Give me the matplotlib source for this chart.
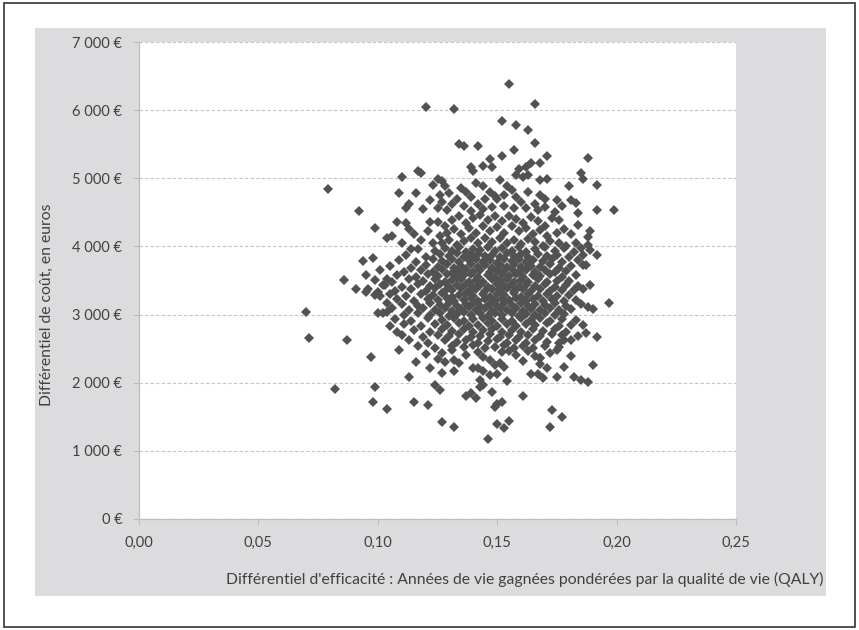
import numpy as np
import matplotlib
matplotlib.use("Agg")
import matplotlib.pyplot as plt
from matplotlib.patches import Rectangle

plt.rcParams['font.family'] = ['Lato', 'DejaVu Sans']

# points: (QALY gain in thousandths, cost difference in euros)
pts_top = [(155, 6390), (166, 6090), (120, 6050), (132, 6020), (152, 5845), (158, 5780),
           (163, 5710), (134, 5505), (136, 5480), (142, 5480), (157, 5415), (166, 5515),
           (171, 5330), (188, 5300), (152, 5320), (147, 5285), (139, 5165), (140, 5100),
           (144, 5185), (148, 5165), (159, 5135), (162, 5165), (164, 5230), (168, 5225),
           (158, 5050), (161, 5025), (163, 5050), (185, 5075), (110, 5020), (117, 5100),
           (118, 5075), (79, 4840)]

pts_4500 = [(168, 4980), (171, 4990), (186, 4990), (192, 4905), (199, 4535), (192, 4535),
            (125, 4995), (127, 4955), (128, 4890), (123, 4905), (116, 4785), (126, 4750),
            (130, 4785), (135, 4855), (137, 4805), (141, 4930), (144, 4880), (151, 4980),
            (154, 4880), (156, 4830), (109, 4785), (180, 4880), (181, 4685), (183, 4640),
            (175, 4685), (168, 4760), (170, 4690), (174, 4510), (113, 4625), (112, 4560),
            (119, 4550), (92, 4525), (147, 4800), (149, 4740), (150, 4700), (153, 4760),
            (145, 4700), (139, 4720), (133, 4700), (158, 4720), (160, 4650), (163, 4800),
            (166, 4620), (142, 4620), (136, 4600), (131, 4620), (127, 4650), (122, 4680),
            (157, 4560), (153, 4600), (148, 4580), (144, 4550), (139, 4520), (162, 4560),
            (167, 4530), (170, 4580), (177, 4600), (184, 4490), (129, 4530), (125, 4560)]

pts_4000 = [(176, 4390), (184, 4320), (189, 4220), (188, 4145), (183, 4050), (185, 3975),
            (188, 4025), (189, 3950), (99, 4275), (108, 4355), (106, 4155), (112, 4350),
            (113, 4250), (122, 4355), (115, 4180), (121, 4230), (125, 4360), (128, 4300),
            (131, 4390), (134, 4440), (137, 4350), (140, 4420), (143, 4460), (146, 4390),
            (149, 4440), (152, 4380), (155, 4450), (158, 4400), (161, 4350), (164, 4430),
            (167, 4380), (170, 4300), (173, 4420), (178, 4250), (181, 4180), (126, 4150),
            (129, 4200), (132, 4250), (135, 4180), (138, 4270), (141, 4200), (144, 4300),
            (147, 4230), (150, 4280), (153, 4200), (156, 4300), (159, 4230), (162, 4270),
            (165, 4180), (168, 4240), (171, 4150), (175, 4200), (118, 4100), (123, 4050),
            (127, 4050), (130, 4100), (133, 4020), (136, 4080), (139, 4120), (142, 4050),
            (145, 4120), (148, 4060), (151, 4130), (154, 4050), (157, 4100), (160, 4030),
            (163, 4110), (166, 4060), (169, 4000), (172, 4080), (176, 4050), (179, 4010),
            (110, 4050), (114, 3960), (104, 4120)]

pts_3500 = [(117, 3960), (124, 3930), (128, 3975), (131, 3940), (134, 3990), (137, 3925),
            (140, 3965), (143, 3945), (146, 3990), (149, 3930), (152, 3970), (156, 3940),
            (159, 3985), (162, 3925), (166, 3960), (170, 3990), (174, 3935), (178, 3970),
            (182, 3920),
            (112, 3880), (120, 3850), (126, 3890), (130, 3860), (133, 3900), (136, 3845),
            (139, 3875), (142, 3895), (145, 3855), (148, 3880), (151, 3845), (154, 3900),
            (157, 3865), (160, 3885), (163, 3850), (167, 3895), (171, 3860), (175, 3880),
            (180, 3845), (186, 3870),
            (109, 3800), (116, 3770), (123, 3810), (127, 3780), (131, 3815), (134, 3765),
            (138, 3795), (141, 3820), (144, 3775), (147, 3800), (150, 3760), (153, 3810),
            (156, 3785), (159, 3820), (162, 3770), (165, 3800), (169, 3780), (173, 3815),
            (177, 3770), (184, 3795),
            (105, 3720), (114, 3690), (120, 3730), (125, 3700), (129, 3735), (132, 3690),
            (135, 3715), (139, 3740), (142, 3695), (145, 3725), (148, 3690), (151, 3730),
            (154, 3705), (157, 3740), (160, 3695), (164, 3720), (168, 3700), (172, 3735),
            (176, 3690), (181, 3715), (187, 3725),
            (101, 3650), (111, 3620), (118, 3660), (123, 3630), (127, 3665), (131, 3615),
            (134, 3645), (137, 3670), (140, 3625), (143, 3655), (147, 3620), (150, 3660),
            (153, 3635), (156, 3665), (159, 3620), (162, 3650), (166, 3630), (170, 3660),
            (174, 3625), (179, 3645),
            (108, 3580), (116, 3555), (121, 3590), (125, 3560), (129, 3595), (133, 3550),
            (136, 3575), (139, 3600), (142, 3555), (146, 3585), (149, 3550), (152, 3590),
            (155, 3565), (158, 3595), (161, 3550), (165, 3580), (168, 3560), (172, 3590),
            (177, 3555), (183, 3575),
            (99, 3505), (106, 3480), (113, 3515), (119, 3490), (124, 3520), (128, 3475),
            (131, 3505), (135, 3525), (138, 3480), (141, 3510), (144, 3475), (148, 3515),
            (151, 3490), (154, 3520), (157, 3475), (160, 3505), (163, 3485), (167, 3515),
            (171, 3480), (175, 3500), (180, 3490)]

pts_3000 = [(103, 3440), (110, 3410), (117, 3445), (122, 3420), (126, 3450), (130, 3405),
            (133, 3435), (137, 3455), (140, 3410), (143, 3440), (146, 3405), (150, 3445),
            (153, 3420), (156, 3450), (159, 3405), (162, 3435), (166, 3415), (170, 3445),
            (174, 3410), (179, 3430), (184, 3420),
            (96, 3370), (107, 3345), (114, 3380), (120, 3350), (124, 3385), (128, 3340),
            (131, 3365), (135, 3390), (138, 3345), (141, 3375), (145, 3340), (148, 3380),
            (151, 3355), (154, 3385), (157, 3340), (161, 3370), (164, 3350), (168, 3380),
            (172, 3345), (177, 3365), (182, 3355), (186, 3370),
            (105, 3300), (112, 3270), (118, 3305), (123, 3280), (127, 3310), (131, 3265),
            (134, 3290), (137, 3315), (140, 3270), (144, 3300), (147, 3265), (150, 3305),
            (153, 3280), (157, 3310), (160, 3265), (163, 3295), (167, 3275), (171, 3305),
            (175, 3270), (180, 3290),
            (108, 3230), (115, 3200), (121, 3235), (125, 3210), (129, 3240), (132, 3195),
            (136, 3220), (139, 3245), (142, 3200), (145, 3230), (149, 3195), (152, 3235),
            (155, 3210), (158, 3240), (162, 3195), (165, 3225), (169, 3205), (173, 3235),
            (178, 3200), (183, 3220),
            (110, 3160), (117, 3130), (122, 3165), (126, 3140), (130, 3170), (133, 3125),
            (137, 3150), (140, 3175), (143, 3130), (147, 3160), (150, 3125), (153, 3165),
            (156, 3140), (160, 3170), (163, 3125), (166, 3155), (170, 3135), (174, 3165),
            (179, 3130), (185, 3150),
            (106, 3090), (113, 3060), (119, 3095), (124, 3070), (128, 3100), (131, 3055),
            (135, 3080), (138, 3105), (141, 3060), (145, 3090), (148, 3055), (151, 3095),
            (154, 3070), (158, 3100), (161, 3055), (164, 3085), (168, 3065), (172, 3095),
            (176, 3060), (181, 3080), (190, 3075),
            (100, 3020), (111, 2990), (117, 3025), (122, 3000), (126, 3030), (130, 2985),
            (133, 3010), (136, 3035), (139, 2990), (143, 3020), (146, 2985), (149, 3025),
            (152, 3000), (156, 3030), (159, 2985), (162, 3015), (166, 2995), (170, 3025),
            (174, 2990), (178, 3010)]

pts_2500 = [(107, 2940), (114, 2910), (121, 2945), (127, 2920), (132, 2950), (136, 2905),
            (140, 2935), (144, 2955), (148, 2910), (152, 2940), (156, 2905), (160, 2945),
            (164, 2920), (168, 2950), (172, 2905), (177, 2935), (183, 2915),
            (111, 2860), (118, 2830), (124, 2865), (129, 2840), (134, 2870), (138, 2825),
            (142, 2850), (146, 2875), (150, 2830), (154, 2860), (158, 2825), (162, 2865),
            (166, 2840), (171, 2870), (176, 2825), (181, 2850), (186, 2840),
            (115, 2780), (122, 2750), (127, 2785), (131, 2760), (136, 2790), (140, 2745),
            (144, 2770), (148, 2795), (152, 2750), (156, 2780), (160, 2745), (165, 2785),
            (169, 2760), (174, 2790), (179, 2745),
            (110, 2700), (119, 2670), (125, 2705), (130, 2680), (134, 2710), (139, 2665),
            (143, 2690), (147, 2715), (151, 2670), (155, 2700), (159, 2665), (163, 2705),
            (168, 2680), (173, 2710), (184, 2680),
            (113, 2620), (121, 2590), (128, 2625), (133, 2600), (137, 2630), (142, 2585),
            (146, 2610), (150, 2635), (154, 2590), (158, 2620), (162, 2585), (166, 2625),
            (171, 2600), (178, 2620),
            (117, 2540), (124, 2510), (131, 2545), (136, 2520), (140, 2550), (145, 2505),
            (149, 2530), (153, 2555), (157, 2510), (161, 2540), (165, 2505), (170, 2545),
            (176, 2520)]

pts_2000 = [(127, 2440), (128, 2305), (131, 2480), (132, 2335), (134, 2290), (137, 2410),
            (142, 2450), (144, 2380), (147, 2335), (152, 2445), (153, 2230), (155, 2470),
            (158, 2400), (161, 2320), (163, 2460), (166, 2390), (168, 2360), (172, 2430),
            (175, 2480), (120, 2420), (116, 2300), (122, 2210), (125, 2350), (140, 2215),
            (144, 2165), (149, 2260), (151, 2290), (168, 2270), (132, 2175), (142, 2215),
            (147, 2110), (150, 2130), (143, 2040), (144, 1970), (143, 1940), (148, 1865),
            (154, 2030), (164, 2130), (167, 2130), (169, 2065), (171, 2215), (175, 2090),
            (178, 2230), (182, 2090), (185, 2040), (188, 2005), (190, 2260), (181, 2385),
            (181, 2630), (177, 2700), (176, 2590), (168, 2360)]

pts_outer = [(70, 3040), (71, 2650), (87, 2630), (82, 1910), (97, 2380), (99, 1930),
             (98, 1710), (104, 1620), (109, 2480), (113, 2090), (115, 1710), (121, 1670),
             (127, 1420), (124, 1970), (126, 1895), (127, 2140), (86, 3510), (91, 3375),
             (95, 3585), (94, 3780), (98, 3830), (95, 3325), (99, 3290), (100, 3325),
             (102, 3430), (104, 3520), (104, 3165), (102, 3020), (104, 3045), (105, 2825),
             (108, 2750), (101, 3270), (132, 1355), (137, 1810), (139, 1845), (141, 1775),
             (146, 1180), (149, 1650), (150, 1690), (152, 1710), (150, 1395), (153, 1340),
             (155, 1445), (161, 1805), (173, 1600), (177, 1500), (172, 1355), (187, 2735),
             (192, 2670), (197, 3165), (188, 3115), (189, 3435), (186, 3730), (192, 3880)]

y_ticks = [0, 1000, 2000, 3000, 4000, 5000, 6000, 7000]
y_labels = ["0 €", "1 000 €", "2 000 €", "3 000 €", "4 000 €", "5 000 €", "6 000 €", "7 000 €"]
x_ticks = [0.0, 0.05, 0.10, 0.15, 0.20, 0.25]
x_labels = ["0,00", "0,05", "0,10", "0,15", "0,20", "0,25"]

pts = np.array(pts_top + pts_4500 + pts_4000 + pts_3500 + pts_3000 + pts_2500
               + pts_2000 + pts_outer, dtype=float)
qaly = pts[:, 0] / 1000.0
cost = pts[:, 1]

W, H = 859, 630
fig = plt.figure(figsize=(W / 100, H / 100), dpi=100)

# outer frame and grey panel (pixel coords converted to figure fractions)
fig.patches.append(Rectangle((4 / W, 3 / H), 851 / W, 624 / H, transform=fig.transFigure,
                             fill=False, edgecolor='#333333', linewidth=1.2, zorder=-5))
fig.patches.append(Rectangle((35 / W, (H - 596) / H), 791 / W, 568 / H,
                             transform=fig.transFigure, facecolor='#dcdcde',
                             edgecolor='none', zorder=-10))

ax = fig.add_axes([139 / W, (H - 519) / H, 597 / W, 477 / H])
ax.set_facecolor('white')
ax.plot(qaly, cost, linestyle='none', marker='D', markersize=4.7,
        color='#525252', markeredgewidth=0, zorder=3)

ax.set_xlim(0, 0.25)
ax.set_ylim(0, 7000)
ax.set_xticks(x_ticks)
ax.set_xticklabels(x_labels)
ax.set_yticks(y_ticks)
ax.set_yticklabels(y_labels)
ax.grid(axis='y', color='#c4c4c4', linestyle=(0, (3, 2)), linewidth=0.8, zorder=1)
ax.set_axisbelow(True)

for s in ['top', 'right']:
    ax.spines[s].set_visible(False)
for s in ['left', 'bottom']:
    ax.spines[s].set_color('#bdbdbd')
    ax.spines[s].set_linewidth(0.9)

ax.tick_params(axis='both', colors='#bdbdbd', labelcolor='#404040', labelsize=10.5,
               length=4, width=0.8, direction='out')
ax.tick_params(axis='y', pad=8)
ax.tick_params(axis='x', pad=8)

fig.text(824 / W, (H - 579) / H,
         "Différentiel d'efficacité : Années de vie gagnées pondérées par la qualité de vie (QALY)",
         ha='right', va='center', fontsize=11.3, color='#404040')
fig.text(47 / W, (H - 305) / H, "Différentiel de coût, en euros", rotation=90,
         ha='center', va='center', fontsize=11.3, color='#404040')

fig.savefig('out.png', dpi=100)
